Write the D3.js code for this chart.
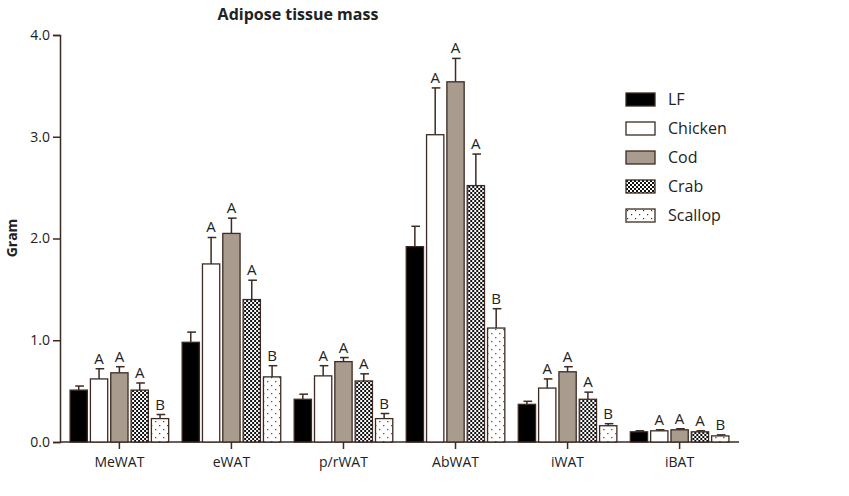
<!DOCTYPE html>
<html><head><meta charset="utf-8">
<script src="https://cdn.jsdelivr.net/npm/d3@7"></script>
<style>body{margin:0;background:#fff}text{font-family:"Open Sans",sans-serif;fill:#222}</style>
</head><body><svg></svg>
<script>
const categories = ["MeWAT", "eWAT", "p/rWAT", "AbWAT", "iWAT", "iBAT"];
const groups = ["LF", "Chicken", "Cod", "Crab", "Scallop"];
const means = {
  LF:      [0.51, 0.98, 0.42, 1.92, 0.37, 0.10],
  Chicken: [0.62, 1.75, 0.65, 3.02, 0.53, 0.11],
  Cod:     [0.68, 2.05, 0.79, 3.54, 0.69, 0.12],
  Crab:    [0.51, 1.40, 0.60, 2.52, 0.42, 0.10],
  Scallop: [0.23, 0.64, 0.23, 1.12, 0.16, 0.06]
};
const errs = {
  LF:      [0.04, 0.10, 0.05, 0.20, 0.03, 0.01],
  Chicken: [0.10, 0.26, 0.10, 0.46, 0.09, 0.01],
  Cod:     [0.06, 0.15, 0.04, 0.23, 0.05, 0.01],
  Crab:    [0.07, 0.19, 0.07, 0.31, 0.07, 0.01],
  Scallop: [0.04, 0.11, 0.05, 0.19, 0.02, 0.01]
};
const letters = ["", "A", "A", "A", "B"];
const yTicks = [0, 1, 2, 3, 4];

const [width, height] = [849, 496];
const svg = d3.select("svg").attr("width", width).attr("height", height);
const ink = "#3b2b22";

// patterns
const defs = svg.append("defs");
const chk = defs.append("pattern").attr("id", "chk").attr("width", 4).attr("height", 4).attr("patternUnits", "userSpaceOnUse");
chk.append("rect").attr("width", 4).attr("height", 4).attr("fill", "#fff");
chk.append("rect").attr("width", 2).attr("height", 2).attr("fill", "#111");
chk.append("rect").attr("x", 2).attr("y", 2).attr("width", 2).attr("height", 2).attr("fill", "#111");
const dot = defs.append("pattern").attr("id", "dot").attr("width", 8).attr("height", 8).attr("patternUnits", "userSpaceOnUse");
dot.append("rect").attr("width", 8).attr("height", 8).attr("fill", "#fff");
dot.append("rect").attr("x", 1).attr("y", 1).attr("width", 1.2).attr("height", 1.2).attr("fill", "#333");
dot.append("rect").attr("x", 5).attr("y", 5).attr("width", 1.2).attr("height", 1.2).attr("fill", "#333");
const fills = {LF: "#000", Chicken: "#fff", Cod: "#a99b8d", Crab: "url(#chk)", Scallop: "url(#dot)"};

const y = d3.scaleLinear().domain([0, 4]).range([442, 35]);
const x0 = d3.scaleBand().domain(categories).range([60, 739]).paddingInner(0.12).paddingOuter(0.09);
const x1 = d3.scaleBand().domain(groups).range([0, x0.bandwidth()]).paddingInner(0.15);

svg.append("text").attr("x", 298).attr("y", 20).attr("text-anchor", "middle")
  .style("font-weight", "bold").style("font-size", "16px").text("Adipose tissue mass");

const gy = svg.append("g").attr("transform", "translate(60,0)")
  .call(d3.axisLeft(y).tickValues(yTicks).tickFormat(d3.format(".1f")).tickSize(7));
const gx = svg.append("g").attr("transform", "translate(0,442)")
  .call(d3.axisBottom(x0).tickSize(7).tickSizeOuter(0));
[gy, gx].forEach(g => {
  g.selectAll("path,line").attr("stroke", ink).attr("stroke-width", 1.5);
  g.selectAll("text").style("font-size", "14px").attr("fill", "#222");
});
gx.select(".domain").attr("d", "M60,0H739");
gx.selectAll("text").attr("dy", "1.1em");

svg.append("text").attr("transform", "translate(17,238) rotate(-90)").attr("text-anchor", "middle")
  .style("font-weight", "bold").style("font-size", "14px").text("Gram");

categories.forEach((c, i) => {
  const g = svg.append("g").attr("transform", `translate(${x0(c)},0)`);
  groups.forEach((s, j) => {
    const v = means[s][i], e = errs[s][i], bx = x1(s), bw = x1.bandwidth(), cx = bx + bw / 2;
    g.append("line").attr("x1", cx).attr("x2", cx).attr("y1", y(v)).attr("y2", y(v + e)).attr("stroke", ink).attr("stroke-width", 1.5);
    g.append("line").attr("x1", cx - bw * 0.2).attr("x2", cx + bw * 0.3).attr("y1", y(v + e)).attr("y2", y(v + e)).attr("stroke", ink).attr("stroke-width", 1.5);
    g.append("rect").attr("x", bx).attr("y", y(v)).attr("width", bw).attr("height", y(0) - y(v))
      .attr("fill", fills[s]).attr("stroke", ink).attr("stroke-width", 1.3);
    if (letters[j]) g.append("text").attr("x", cx).attr("y", y(v + e) - 5).attr("text-anchor", "middle")
      .style("font-size", "15px").text(letters[j]);
  });
});

const lg = svg.append("g").attr("transform", "translate(626,93)");
groups.forEach((s, j) => {
  const r = lg.append("g").attr("transform", `translate(0,${j * 29})`);
  r.append("rect").attr("width", 29).attr("height", 13).attr("fill", fills[s]).attr("stroke", ink).attr("stroke-width", 1.3);
  r.append("text").attr("x", 42).attr("y", 12).style("font-size", "16px").text(s);
});
</script></body></html>
